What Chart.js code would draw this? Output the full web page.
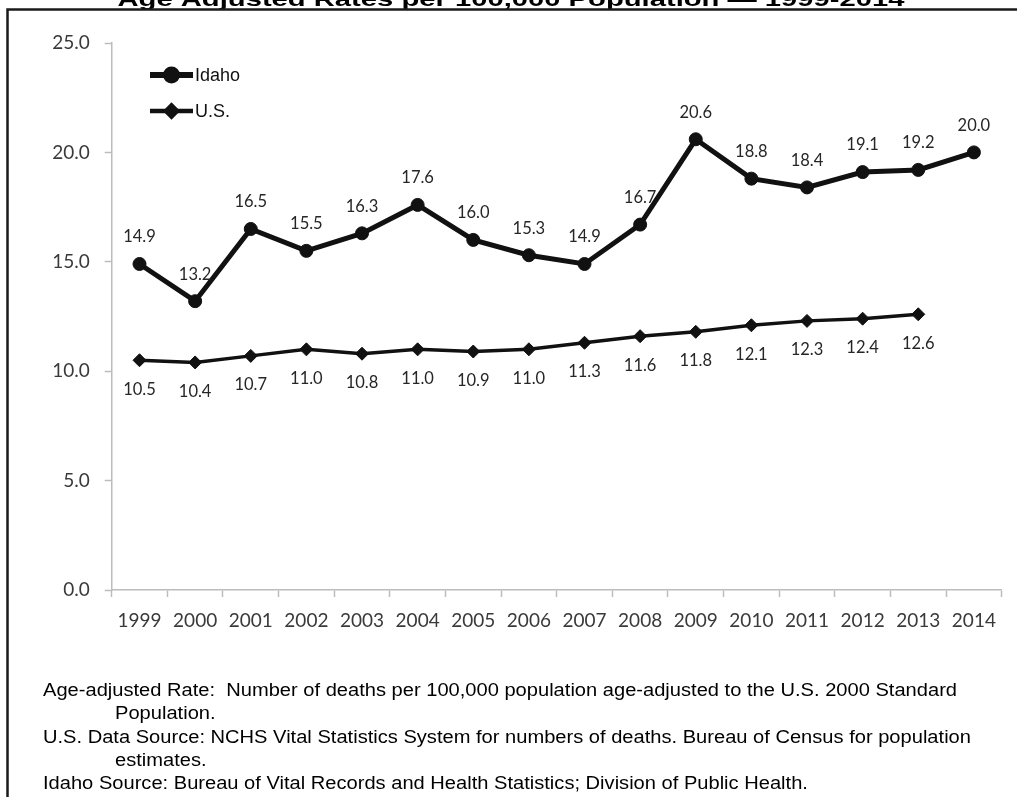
<!DOCTYPE html>
<html>
<head>
<meta charset="utf-8">
<script src="https://cdn.jsdelivr.net/npm/chart.js@4/dist/chart.umd.min.js"></script>
<style>
  html, body { margin: 0; padding: 0; background: #fff; }
  #wrap { position: relative; width: 1017px; height: 797px; }
</style>
</head>
<body>
<div id="wrap"><canvas id="c" width="1017" height="797"></canvas></div>
<script>
// Years on the category axis
const years = ['1999','2000','2001','2002','2003','2004','2005','2006','2007','2008','2009','2010','2011','2012','2013','2014'];
// Age-adjusted rates per 100,000
const idahoRates = [14.9, 13.2, 16.5, 15.5, 16.3, 17.6, 16.0, 15.3, 14.9, 16.7, 20.6, 18.8, 18.4, 19.1, 19.2, 20.0];
const usRates    = [10.5, 10.4, 10.7, 11.0, 10.8, 11.0, 10.9, 11.0, 11.3, 11.6, 11.8, 12.1, 12.3, 12.4, 12.6, null];
const seriesNames = ['Idaho', 'U.S.'];
const yMin = 0, yMax = 25, yStep = 5;

const titleText = 'Age Adjusted Rates per 100,000 Population \u2014 1999-2014';
const footnotes = [
  { text: 'Age-adjusted Rate:  Number of deaths per 100,000 population age-adjusted to the U.S. 2000 Standard', indent: false },
  { text: 'Population.', indent: true },
  { text: 'U.S. Data Source: NCHS Vital Statistics System for numbers of deaths. Bureau of Census for population', indent: false },
  { text: 'estimates.', indent: true },
  { text: 'Idaho Source: Bureau of Vital Records and Health Statistics; Division of Public Health.', indent: false }
];

const INK = '#111111';
const AXIS_GRAY = '#bcbcbc';
const TICK_FONT = { family: 'Lato, "Open Sans", sans-serif', size: 19 };

// Page furniture: white background, frame, clipped heading, notes below the plot
const pagePlugin = {
  id: 'page',
  beforeDraw(chart) {
    const ctx = chart.ctx;
    ctx.save();
    ctx.fillStyle = '#fff';
    ctx.fillRect(0, 0, chart.width, chart.height);

    // heading (runs off the top edge)
    ctx.fillStyle = '#000';
    ctx.font = 'bold 20px "Liberation Sans", Arial, sans-serif';
    ctx.textBaseline = 'alphabetic';
    const tw = ctx.measureText(titleText).width;
    const tScale = 787 / tw;
    ctx.save();
    ctx.translate(511, 6);
    ctx.scale(tScale, 1);
    ctx.textAlign = 'center';
    ctx.fillText(titleText, 0, 0);
    ctx.restore();

    // frame
    ctx.strokeStyle = '#1a1a1a';
    ctx.lineWidth = 2.5;
    ctx.beginPath();
    ctx.moveTo(7.5, chart.height + 2);
    ctx.lineTo(7.5, 9.5);
    ctx.lineTo(chart.width + 2, 9.5);
    ctx.stroke();

    // notes
    ctx.font = '17.5px "Liberation Sans", Arial, sans-serif';
    ctx.textAlign = 'left';
    const fw = ctx.measureText(footnotes[0].text).width;
    const fScale = 914 / fw;
    const baseY = 696, lineH = 23.3;
    footnotes.forEach((f, i) => {
      ctx.save();
      ctx.translate(f.indent ? 115 : 43, baseY + i * lineH);
      ctx.scale(fScale, 1);
      ctx.fillText(f.text, 0, 0);
      ctx.restore();
    });
    ctx.restore();
  }
};

// Value labels above the Idaho points and below the U.S. points
const valueLabelPlugin = {
  id: 'valueLabels',
  afterDatasetsDraw(chart) {
    const ctx = chart.ctx;
    ctx.save();
    ctx.font = '16.5px Lato, "Open Sans", sans-serif';
    ctx.fillStyle = '#262626';
    ctx.textAlign = 'center';
    ctx.textBaseline = 'middle';
    chart.data.datasets.forEach((ds, di) => {
      const meta = chart.getDatasetMeta(di);
      const dy = di === 0 ? -27 : 29;
      meta.data.forEach((pt, i) => {
        const v = ds.data[i];
        if (v === null || v === undefined) return;
        ctx.fillText(v.toFixed(1), pt.x, pt.y + dy);
      });
    });
    ctx.restore();
  }
};

// Legend drawn inside the plot area, top-left
const insideLegendPlugin = {
  id: 'insideLegend',
  afterDraw(chart) {
    const ctx = chart.ctx;
    ctx.save();
    const rows = [75, 111];
    chart.data.datasets.forEach((ds, di) => {
      const y = rows[di];
      ctx.strokeStyle = ds.borderColor;
      ctx.lineWidth = ds.borderWidth + 1;
      ctx.lineCap = 'butt';
      ctx.beginPath();
      ctx.moveTo(150, y);
      ctx.lineTo(193, y);
      ctx.stroke();
      ctx.fillStyle = ds.pointBackgroundColor;
      ctx.strokeStyle = ds.pointBorderColor;
      Chart.helpers.drawPoint(ctx, {
        pointStyle: ds.pointStyle,
        radius: 5.5,
        borderWidth: 1
      }, 171.5, y);
      ctx.fillStyle = '#111';
      ctx.font = '18px "Liberation Sans", Arial, sans-serif';
      ctx.textAlign = 'left';
      ctx.textBaseline = 'middle';
      ctx.fillText(ds.label, 195, y + 1);
    });
    ctx.restore();
  }
};

const ctxEl = document.getElementById('c');
new Chart(ctxEl, {
  type: 'line',
  data: {
    labels: years,
    datasets: [
      {
        label: seriesNames[0],
        data: idahoRates,
        borderColor: INK,
        backgroundColor: INK,
        borderWidth: 5,
        pointStyle: 'circle',
        pointRadius: 6.5,
        pointBorderWidth: 1,
        pointBackgroundColor: INK,
        pointBorderColor: INK,
        tension: 0
      },
      {
        label: seriesNames[1],
        data: usRates,
        borderColor: INK,
        backgroundColor: INK,
        borderWidth: 3.5,
        pointStyle: 'rectRot',
        pointRadius: 6.5,
        pointBorderWidth: 1,
        pointBackgroundColor: INK,
        pointBorderColor: INK,
        spanGaps: false,
        tension: 0
      }
    ]
  },
  options: {
    responsive: false,
    animation: false,
    devicePixelRatio: 1,
    layout: { padding: { left: 0, right: 15.3, top: 43, bottom: 797 - 590 - 40 } },
    plugins: {
      legend: { display: false },
      title: { display: false },
      tooltip: { enabled: false }
    },
    scales: {
      x: {
        type: 'category',
        offset: true,
        grid: {
          offset: true,
          drawOnChartArea: false,
          drawTicks: true,
          tickLength: 7,
          tickColor: AXIS_GRAY,
          tickWidth: 1.5
        },
        border: { display: true, color: AXIS_GRAY, width: 1.5 },
        ticks: {
          color: '#3a3a3a',
          font: TICK_FONT,
          padding: 12,
          maxRotation: 0,
          autoSkip: false
        },
        afterFit(scale) { scale.height = 40; }
      },
      y: {
        min: yMin,
        max: yMax,
        ticks: {
          stepSize: yStep,
          color: '#3a3a3a',
          font: TICK_FONT,
          padding: 15,
          callback: v => v.toFixed(1)
        },
        grid: {
          drawOnChartArea: false,
          drawTicks: true,
          tickLength: 7,
          tickColor: AXIS_GRAY,
          tickWidth: 1.5
        },
        border: { display: true, color: AXIS_GRAY, width: 1.5 },
        afterFit(scale) { scale.width = 111.7; }
      }
    }
  },
  plugins: [pagePlugin, valueLabelPlugin, insideLegendPlugin]
});
</script>
</body>
</html>
